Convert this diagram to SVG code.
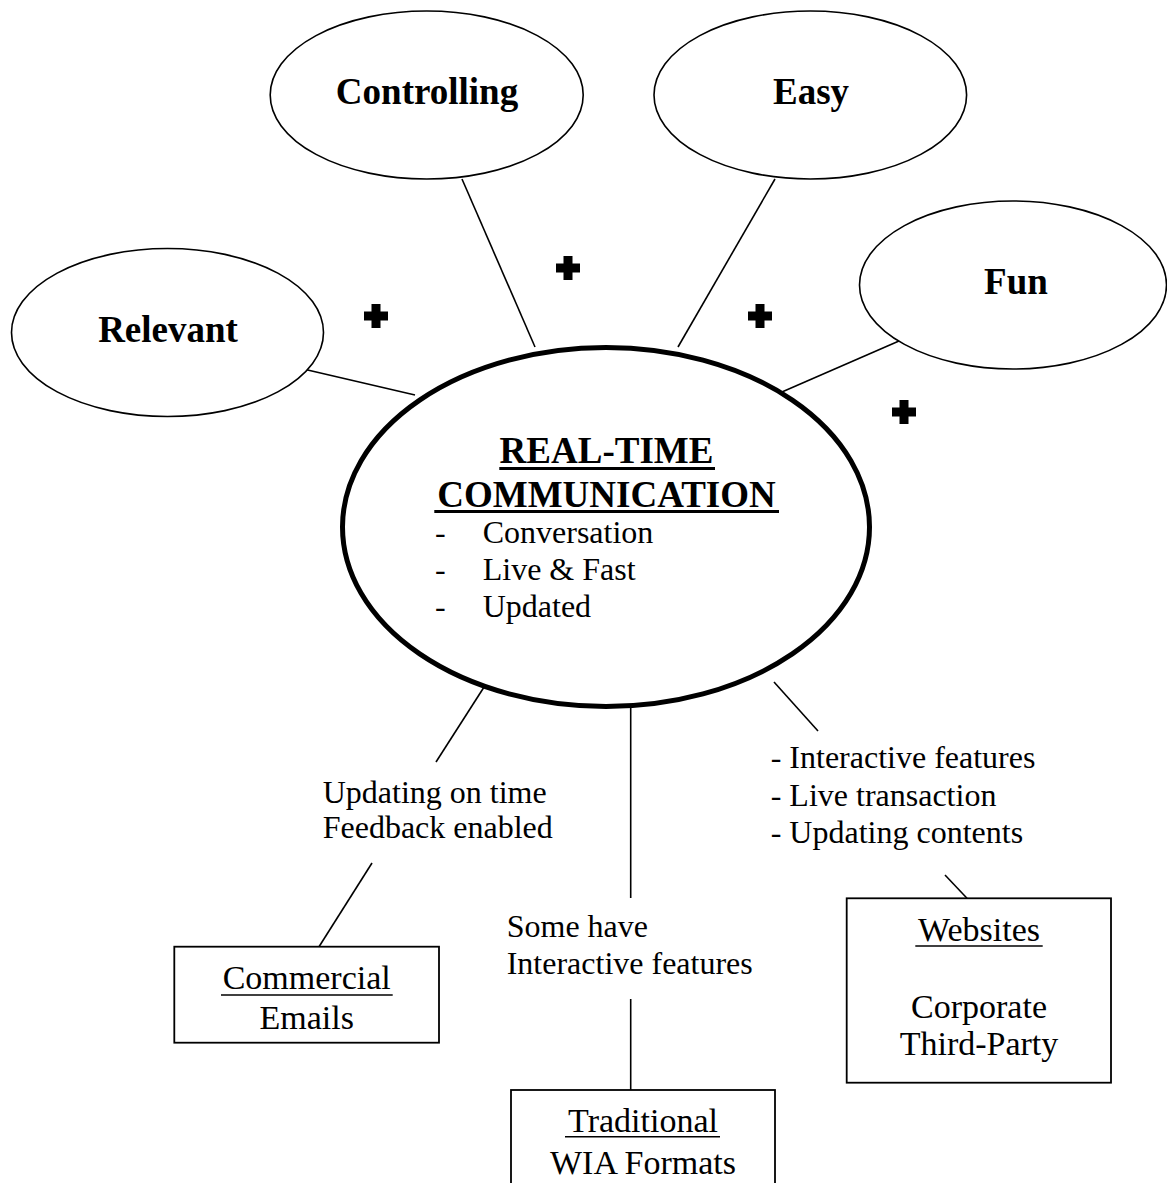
<svg xmlns="http://www.w3.org/2000/svg" width="1167" height="1183" viewBox="0 0 1167 1183">
  <style>
    .bubble { fill: #fff; stroke: #000; stroke-width: 1.6; }
    .core { fill: #fff; stroke: #000; stroke-width: 5; }
    .box { fill: #fff; stroke: #000; stroke-width: 1.8; }
    .link { stroke: #000; stroke-width: 1.6; fill: none; }
    .uline { stroke: #000; stroke-width: 1.6; }
    .uline-bold { stroke: #000; stroke-width: 3; }
    .head { font-family: "Liberation Serif", "Times New Roman", serif; font-weight: bold; font-size: 37px; fill: #000; text-anchor: middle; }
    .body { font-family: "Liberation Serif", "Times New Roman", serif; font-size: 32px; fill: #000; }
    .boxtext { font-family: "Liberation Serif", "Times New Roman", serif; font-size: 34px; fill: #000; text-anchor: middle; }
  </style>
  <defs>
    <!-- heavy plus sign placed between the attribute bubbles -->
    <path id="plus" d="M -4.5 -12 H 4.5 V -4.5 H 12 V 4.5 H 4.5 V 12 H -4.5 V 4.5 H -12 V -4.5 H -4.5 Z" fill="#000"/>
  </defs>

  <rect width="1167" height="1183" fill="#fff"/>

  <!-- connectors -->
  <g id="connectors">
    <line class="link" x1="462" y1="179" x2="535" y2="347"/>
    <line class="link" x1="775" y1="179" x2="678" y2="347"/>
    <line class="link" x1="299" y1="368" x2="415" y2="395"/>
    <line class="link" x1="899" y1="341" x2="775" y2="395"/>
    <line class="link" x1="486" y1="684" x2="436" y2="762"/>
    <line class="link" x1="372" y1="863" x2="319" y2="946.7"/>
    <line class="link" x1="630.7" y1="706" x2="630.7" y2="898"/>
    <line class="link" x1="630.7" y1="999" x2="630.7" y2="1090"/>
    <line class="link" x1="774" y1="682" x2="818" y2="731"/>
    <line class="link" x1="945" y1="875" x2="967" y2="898.3"/>
  </g>

  <!-- plus signs -->
  <g id="plus-signs">
    <use href="#plus" x="376" y="316"/>
    <use href="#plus" x="568" y="268"/>
    <use href="#plus" x="760" y="316"/>
    <use href="#plus" x="904" y="412"/>
  </g>

  <g id="node-controlling">
    <ellipse class="bubble" cx="426.7" cy="95" rx="156.5" ry="84"/>
    <text class="head" x="427" y="104">Controlling</text>
  </g>

  <g id="node-easy">
    <ellipse class="bubble" cx="810.3" cy="95" rx="156.3" ry="84"/>
    <text class="head" x="811" y="104">Easy</text>
  </g>

  <g id="node-relevant">
    <ellipse class="bubble" cx="167.5" cy="332.5" rx="156" ry="84"/>
    <text class="head" x="168" y="341.7">Relevant</text>
  </g>

  <g id="node-fun">
    <ellipse class="bubble" cx="1013" cy="285" rx="153.5" ry="84"/>
    <text class="head" x="1016" y="294.3">Fun</text>
  </g>

  <g id="node-realtime">
    <ellipse class="core" cx="606" cy="527" rx="263.5" ry="179.5"/>
    <text class="head" x="606.5" y="463">REAL-TIME</text>
    <line class="uline-bold" x1="499.3" y1="468.5" x2="715" y2="468.5"/>
    <text class="head" x="606.5" y="507">COMMUNICATION</text>
    <line class="uline-bold" x1="434.3" y1="511.5" x2="779" y2="511.5"/>
    <g class="body">
      <text x="435" y="543">-</text>
      <text x="482.7" y="543">Conversation</text>
      <text x="435" y="580">-</text>
      <text x="482.7" y="580">Live &amp; Fast</text>
      <text x="435" y="617">-</text>
      <text x="482.7" y="617">Updated</text>
    </g>
  </g>

  <!-- edge notes -->
  <g id="label-emails" class="body">
    <text x="322.7" y="802.7">Updating on time</text>
    <text x="322.7" y="838.3">Feedback enabled</text>
  </g>
  <g id="label-traditional" class="body">
    <text x="506.7" y="937.3">Some have</text>
    <text x="506.7" y="974">Interactive features</text>
  </g>
  <g id="label-websites" class="body">
    <text x="770.7" y="768.3">- Interactive features</text>
    <text x="770.7" y="806">- Live transaction</text>
    <text x="770.7" y="842.7">- Updating contents</text>
  </g>

  <g id="node-commercial">
    <rect class="box" x="174.3" y="946.7" width="264.7" height="96"/>
    <text class="boxtext" x="306.7" y="989.3">Commercial</text>
    <line class="uline" x1="221" y1="995" x2="392.7" y2="995"/>
    <text class="boxtext" x="306.7" y="1029.3">Emails</text>
  </g>

  <g id="node-websites">
    <rect class="box" x="846.7" y="898.3" width="264.3" height="184.4"/>
    <text class="boxtext" x="979" y="940.7">Websites</text>
    <line class="uline" x1="915.3" y1="946" x2="1042.7" y2="946"/>
    <text class="boxtext" x="979" y="1018.3">Corporate</text>
    <text class="boxtext" x="979" y="1055">Third-Party</text>
  </g>

  <g id="node-traditional">
    <rect class="box" x="511" y="1090" width="264" height="110"/>
    <text class="boxtext" x="643" y="1131.7">Traditional</text>
    <line class="uline" x1="565" y1="1136.7" x2="720" y2="1136.7"/>
    <text class="boxtext" x="643" y="1174">WIA Formats</text>
  </g>
</svg>
